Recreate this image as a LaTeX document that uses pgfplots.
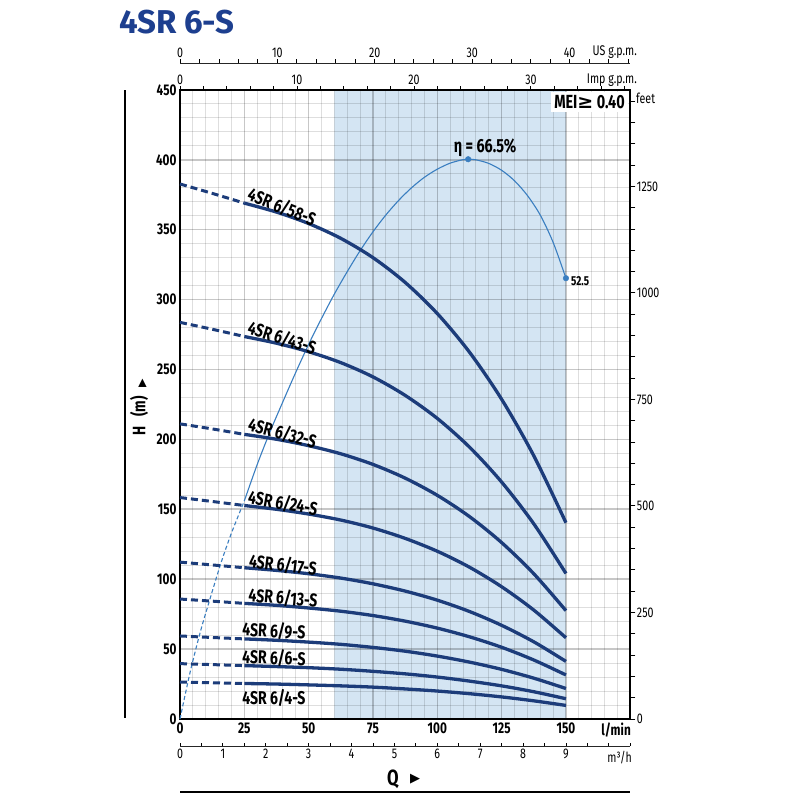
\documentclass[border=0pt]{standalone}
\usepackage{pgfplots}
\pgfplotsset{compat=1.18}
\usepackage{fontspec}
\setmainfont{Fira Sans}[FakeStretch=0.76]
\newfontfamily\titlefont{Fira Sans}[FakeStretch=1.0]
\newfontfamily\symfont{DejaVu Sans}
\definecolor{navy}{HTML}{1C3C7A}
\definecolor{effblue}{HTML}{3A7EC0}
\definecolor{shade}{HTML}{D4E5F3}
\definecolor{titleblue}{HTML}{1D3F8F}
\newcommand\tickfont{\fontsize{15.5}{16}\selectfont\bfseries}
\newcommand\smallfont{\fontsize{14}{15}\selectfont}
\newcommand\curvefont{\fontsize{18.5}{19}\selectfont\bfseries}
\begin{document}
\begin{tikzpicture}[x=1pt,y=1pt]
% ---------------- main axis ----------------
\begin{axis}[
  at={(180pt,81pt)}, anchor=south west,
  x=2.573pt, y=1.398pt,
  xmin=0, xmax=175, ymin=0, ymax=450,
  set layers,
  axis line style={line width=2pt, black},
  xtick={0,25,...,150}, ytick={0,50,...,450},
  minor xtick={5,10,15,20,30,35,40,45,55,60,65,70,80,85,90,95,105,110,115,120,130,135,140,145,155,160,165,170},
  minor ytick={10,20,30,40,60,70,80,90,110,120,130,140,160,170,180,190,210,220,230,240,260,270,280,290,310,320,330,340,360,370,380,390,410,420,430,440},
  grid=both,
  major grid style={black, opacity=0.22, line width=1.6pt},
  minor grid style={black, opacity=0.13, line width=0.9pt},
  major tick length=0pt, minor tick length=0pt,
  ticklabel style={font=\tickfont},
  /pgf/number format/assume math mode=true,
  clip=false,
]
\addplot[fill=shade, draw=none, on layer=axis background] coordinates {(60,0) (60,450) (150,450) (150,0)} \closedcycle;
% efficiency curve (in H-axis units: 66.5 % at 400.4 m)
\addplot[effblue, line width=1.1pt, dash pattern=on 4pt off 2.5pt, smooth] coordinates {(0,0) (4,34) (8,63) (12,88) (16,112) (20,133) (25,156)};
\addplot[effblue, line width=1.1pt, smooth] coordinates {(25,156) (30,182) (35,205.5) (40,227) (45,248) (50,268) (55,286.5) (60,304) (65,320) (70,335) (75,348.5) (80,360.5) (85,371) (90,380) (95,387.5) (100,393.3) (105,397.6) (110,400.1) (112,400.4) (115,400.0) (120,397.4) (125,392.5) (130,385) (135,374.5) (140,360.5) (145,341) (150,315.3)};
\addplot[only marks, mark=*, mark size=2.8pt, effblue] coordinates {(112,400.4) (150,315.3)};
% pump curves: dashed 0-25, solid 25-150
\pgfplotsset{pumpd/.style={navy, line width=3pt, dash pattern=on 7pt off 4pt, smooth}, pumps/.style={navy, line width=3.3pt, smooth}}
\addplot[pumpd] coordinates {(0,382.7) (12.5,376.0) (25,369.0)};
\addplot[pumps] coordinates {(25,369.0) (37.5,362.6) (50,354.4) (62.5,343.8) (75,330.0) (87.5,312.3) (100,290.0) (112.5,262.4) (125,228.7) (137.5,188.3) (150,140.4)};
\addplot[pumpd] coordinates {(0,283.7) (12.5,278.8) (25,273.6)};
\addplot[pumps] coordinates {(25,273.6) (37.5,268.8) (50,262.7) (62.5,254.9) (75,244.7) (87.5,231.5) (100,215.0) (112.5,194.5) (125,169.5) (137.5,139.6) (150,104.1)};
\addplot[pumpd] coordinates {(0,211.1) (12.5,207.5) (25,203.6)};
\addplot[pumps] coordinates {(25,203.6) (37.5,200.1) (50,195.5) (62.5,189.7) (75,182.1) (87.5,172.3) (100,160.0) (112.5,144.8) (125,126.2) (137.5,103.9) (150,77.5)};
\addplot[pumpd] coordinates {(0,158.4) (12.5,155.6) (25,152.7)};
\addplot[pumps] coordinates {(25,152.7) (37.5,150.0) (50,146.6) (62.5,142.3) (75,136.6) (87.5,129.2) (100,120.0) (112.5,108.6) (125,94.6) (137.5,77.9) (150,58.1)};
\addplot[pumpd] coordinates {(0,112.2) (12.5,110.2) (25,108.2)};
\addplot[pumps] coordinates {(25,108.2) (37.5,106.3) (50,103.9) (62.5,100.8) (75,96.7) (87.5,91.5) (100,85.0) (112.5,76.9) (125,67.0) (137.5,55.2) (150,41.2)};
\addplot[pumpd] coordinates {(0,85.8) (12.5,84.3) (25,82.7)};
\addplot[pumps] coordinates {(25,82.7) (37.5,81.3) (50,79.4) (62.5,77.1) (75,74.0) (87.5,70.0) (100,65.0) (112.5,58.8) (125,51.3) (137.5,42.2) (150,31.5)};
\addplot[pumpd] coordinates {(0,59.4) (12.5,58.3) (25,57.3)};
\addplot[pumps] coordinates {(25,57.3) (37.5,56.3) (50,55.0) (62.5,53.4) (75,51.2) (87.5,48.5) (100,45.0) (112.5,40.7) (125,35.5) (137.5,29.2) (150,21.8)};
\addplot[pumpd] coordinates {(0,39.6) (12.5,38.9) (25,38.2)};
\addplot[pumps] coordinates {(25,38.2) (37.5,37.5) (50,36.7) (62.5,35.6) (75,34.1) (87.5,32.3) (100,30.0) (112.5,27.1) (125,23.7) (137.5,19.5) (150,14.5)};
\addplot[pumpd] coordinates {(0,26.4) (12.5,25.9) (25,25.4)};
\addplot[pumps] coordinates {(25,25.4) (37.5,25.0) (50,24.4) (62.5,23.7) (75,22.8) (87.5,21.5) (100,20.0) (112.5,18.1) (125,15.8) (137.5,13.0) (150,9.7)};
\end{axis}
% ---------------- right axis: feet ----------------
\begin{axis}[
  at={(180pt,81pt)}, anchor=south west,
  x=2.573pt, y=0.426110pt,
  xmin=0, xmax=175, ymin=0, ymax=1476.38,
  hide x axis, axis y line=right, axis line style={draw=none},
  ytick={0,250,...,1250}, minor ytick={50,100,...,1450},
  tick align=outside, major tick length=5pt, minor tick length=5pt,
  every tick/.style={black, line width=0.9pt},
  yticklabel style={font=\smallfont, inner sep=1.5pt},
  /pgf/number format/assume math mode=true,
  /pgf/number format/1000 sep={},
  scaled y ticks=false,
]
\addplot[draw=none] coordinates {(0,0) (175,1476.38)};
\end{axis}
% ---------------- top axis: Imp g.p.m. ----------------
\begin{axis}[
  at={(180pt,81pt)}, anchor=south west,
  x=11.6972pt, y=1.398pt,
  xmin=0, xmax=38.4946, ymin=0, ymax=450,
  hide y axis, axis x line=top, axis line style={draw=none},
  xtick={0,10,20,30}, minor xtick={2,4,...,38},
  tick align=outside, major tick length=3.5pt, minor tick length=3.5pt,
  every tick/.style={black, line width=0.9pt},
  xticklabel style={font=\smallfont, inner sep=2pt},
  /pgf/number format/assume math mode=true,
]
\addplot[draw=none] coordinates {(0,0) (38.4946,450)};
\end{axis}
% ---------------- top axis: US g.p.m. ----------------
\begin{axis}[
  at={(180pt,737pt)}, anchor=north west,
  x=9.7399pt, y=1pt,
  xmin=0, xmax=46.23, ymin=0, ymax=1,
  hide y axis, axis x line=top, axis line style={-, line width=0.9pt, black!85},
  xtick={0,10,20,30,40}, minor xtick={2,4,...,46},
  tick align=outside, major tick length=3.5pt, minor tick length=3.5pt,
  every tick/.style={black, line width=0.9pt},
  xticklabel style={font=\smallfont, inner sep=2pt},
  /pgf/number format/assume math mode=true,
]
\addplot[draw=none] coordinates {(0,0) (46.23,1)};
\end{axis}
% ---------------- bottom axis: m3/h ----------------
\begin{axis}[
  at={(180pt,54pt)}, anchor=south west,
  x=42.883pt, y=1pt,
  xmin=0, xmax=10.5, ymin=0, ymax=1,
  hide y axis, axis x line=bottom, axis line style={-, line width=0.9pt, black!85},
  xtick={0,1,...,9}, minor xtick={0.5,1.5,...,10.5}, extra x ticks={10}, extra x tick labels={},
  tick align=inside, major tick length=3.5pt, minor tick length=3.5pt,
  every tick/.style={black, line width=0.9pt},
  xticklabel style={font=\smallfont, inner sep=2.5pt},
  /pgf/number format/assume math mode=true,
]
\addplot[draw=none] coordinates {(0,0) (10.5,1)};
\end{axis}
% ---------------- texts ----------------
\node[anchor=west, inner sep=0, font=\titlefont\bfseries\fontsize{33}{33}\selectfont, text=titleblue] at (119,778) {4SR 6-S};
\node[anchor=east, inner sep=0, font=\smallfont] at (637,748) {US g.p.m.};
\node[anchor=east, inner sep=0, font=\smallfont] at (637,720) {Imp g.p.m.};
\node[anchor=west, inner sep=0, font=\smallfont] at (636,702) {feet};
\node[anchor=north east, fill=white, inner sep=3pt, font=\bfseries\fontsize{19}{19}\selectfont] at (628,708) {MEI{\symfont\bfseries ≥} 0.40};
\node[font=\bfseries\fontsize{19}{19}\selectfont] at (485,652) {η = 66.5\%};
\node[anchor=west, inner sep=1pt, font=\bfseries\fontsize{13}{13}\selectfont] at (570,519) {52.5};
\node[anchor=east, inner sep=0, font=\tickfont] at (631,70) {l/min};
\node[anchor=east, inner sep=0, font=\smallfont] at (632,42) {m³/h};
\node[font=\bfseries\fontsize{22}{22}\selectfont] at (393,21) {Q};
\node[font=\symfont\fontsize{13}{13}\selectfont] at (415,21) {▶};
\draw[line width=2pt] (180,8) -- (630,8);
\draw[line width=2pt] (125,82) -- (125,710);
\node[rotate=90, font=\bfseries\fontsize{18}{18}\selectfont] at (139,393) {H\enspace(m)\enspace{\symfont\fontsize{11}{11}\selectfont ▶}};
% curve labels
\node[rotate=-22, font=\curvefont] at (282,593) {4SR 6/58-S};
\node[rotate=-18, font=\curvefont] at (282,462) {4SR 6/43-S};
\node[rotate=-15, font=\curvefont] at (282.5,367) {4SR 6/32-S};
\node[rotate=-10, font=\curvefont] at (283,297) {4SR 6/24-S};
\node[rotate=-7, font=\curvefont] at (283,235) {4SR 6/17-S};
\node[rotate=-5, font=\curvefont] at (283,202) {4SR 6/13-S};
\node[rotate=-3, font=\curvefont] at (274,169) {4SR 6/9-S};
\node[rotate=-2, font=\curvefont] at (274,142) {4SR 6/6-S};
\node[font=\curvefont] at (274,102) {4SR 6/4-S};
\pgfresetboundingbox
\path[use as bounding box] (0,0) rectangle (800,800);
\end{tikzpicture}
\end{document}
